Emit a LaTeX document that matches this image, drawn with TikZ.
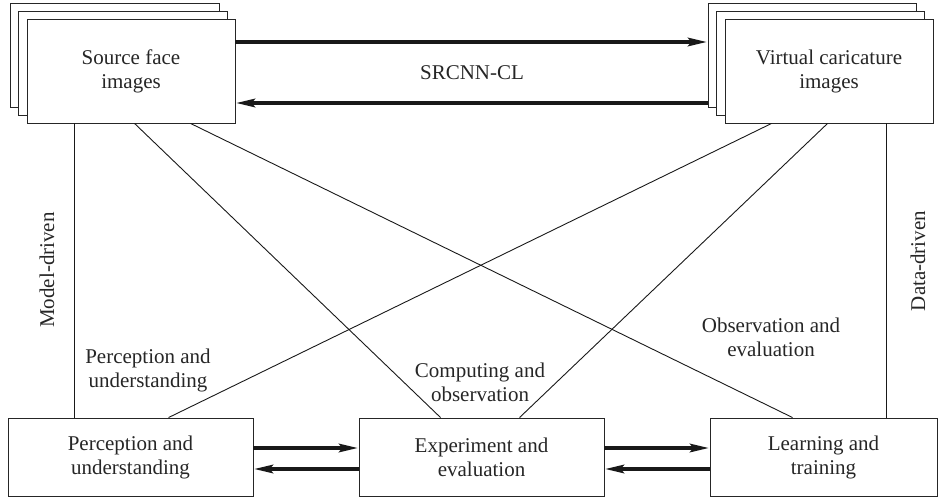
\documentclass[tikz,border=0pt]{standalone}
\usepackage{fontspec}
\setmainfont{Liberation Serif}
\usetikzlibrary{arrows.meta,calc}
\begin{document}
\begin{tikzpicture}[x=1pt,y=-1pt,
  every node/.style={font=\fontsize{21}{24}\selectfont, text=black!85},
  box/.style={draw=black!85, line width=0.9pt, fill=white, inner sep=0pt, align=center},
  conn/.style={draw=black!90, line width=0.9pt},
  thick arrow/.style={draw=black!90, line width=4pt, -{Stealth[length=19pt,width=8pt,inset=3pt]}},
  lbl/.style={align=center, inner sep=0pt}]
\useasboundingbox (0,0) rectangle (945,498);
% source stack
\node[box, minimum width=209pt, minimum height=104pt] (srcA) at (114.5,55) {};
\node[box, minimum width=209pt, minimum height=104pt] (srcB) at (122.5,63) {};
\node[box, minimum width=208pt, minimum height=104pt] (src) at (131,71) {Source face\\images};
% virtual stack
\node[box, minimum width=208pt, minimum height=104pt] (virA) at (812,55) {};
\node[box, minimum width=208pt, minimum height=104pt] (virB) at (820,63) {};
\node[box, minimum width=208pt, minimum height=104pt] (vir) at (829,71) {Virtual caricature\\images};
% bottom boxes
\node[box, minimum width=245pt, minimum height=78pt] (per) at (130.5,457) {Perception and\\understanding};
\node[box, minimum width=245pt, minimum height=78pt] (exp) at (481.5,457) {Experiment and\\evaluation};
\node[box, minimum width=227pt, minimum height=78pt] (lea) at (823.5,457) {Learning and\\training};
% top arrows
\draw[thick arrow] ([yshift=29pt]src.east) -- ([yshift=29pt]src.east -| virA.west);
\draw[thick arrow] ([yshift=-32pt]src.east -| virA.west) -- ([yshift=-32pt]src.east);
\node[lbl] (srcnn) at (472,73) {SRCNN-CL};
% bottom arrows
\draw[thick arrow] ([yshift=9pt]per.east) -- ([yshift=9pt]exp.west);
\draw[thick arrow] ([yshift=-12pt]exp.west) -- ([yshift=-12pt]per.east);
\draw[thick arrow] ([yshift=9pt]exp.east) -- ([yshift=9pt]lea.west);
\draw[thick arrow] ([yshift=-12pt]lea.west) -- ([yshift=-12pt]exp.east);
% connectors
\draw[conn] ([xshift=48pt]src.south west) -- ([xshift=67pt]per.north west);
\draw[conn] ([xshift=108pt]src.south west) -- ([xshift=82pt]exp.north west);
\draw[conn] ([xshift=164pt]src.south west) -- ([xshift=83pt]lea.north west);
\draw[conn] ([xshift=47pt]vir.south west) -- ([xshift=161pt]per.north west);
\draw[conn] ([xshift=103pt]vir.south west) -- ([xshift=161pt]exp.north west);
\draw[conn] ([xshift=162pt]vir.south west) -- ([xshift=177pt]lea.north west);
% labels
\node[lbl, rotate=90] (md) at (47,270) {Model-driven};
\node[lbl, rotate=90] (dd) at (918,261) {Data-driven};
\node[lbl] (l1) at (148,370) {Perception and\\understanding};
\node[lbl] (l2) at (480,382) {Computing and\\observation};
\node[lbl] (l3) at (771,337) {Observation and\\evaluation};
\end{tikzpicture}
\end{document}
